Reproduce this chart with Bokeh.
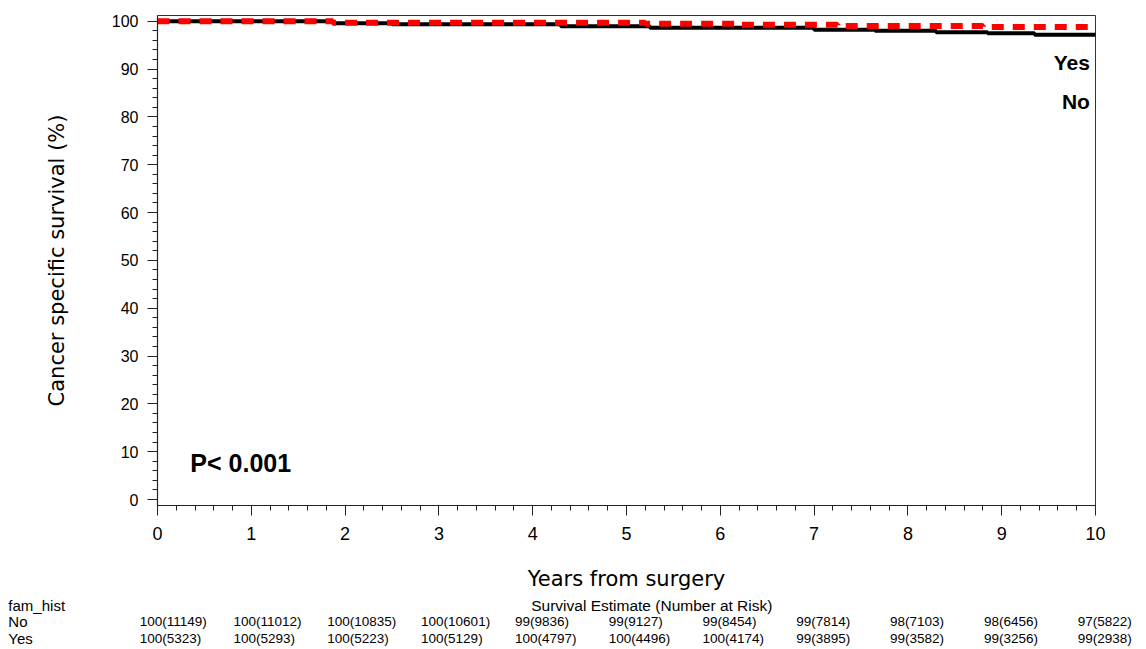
from bokeh.plotting import figure
from bokeh.models import Range1d, SingleIntervalTicker, ColumnDataSource
from bokeh.layouts import column
from bokeh.core.properties import value
from bokeh.embed import file_html
from bokeh.resources import INLINE

# ---- data ----
no_t = [0, 1.87, 2.5, 4.3, 5.25, 7.0, 7.65, 8.3, 8.85, 9.35, 10]
no_s = [100, 99.58, 99.37, 98.95, 98.64, 98.2, 98.0, 97.7, 97.5, 97.2, 97.1]
yes_t = [0, 1.87, 5.2, 6.15, 7.25, 8.8, 10]
yes_s = [100, 99.7, 99.5, 99.25, 99.0, 98.8, 98.75]

times = list(range(11))
no_est = [100, 100, 100, 100, 99, 99, 99, 99, 98, 98, 97]
no_risk = [11149, 11012, 10835, 10601, 9836, 9127, 8454, 7814, 7103, 6456, 5822]
yes_est = [100, 100, 100, 100, 100, 100, 100, 99, 99, 99, 99]
yes_risk = [5323, 5293, 5223, 5129, 4797, 4496, 4174, 3895, 3582, 3256, 2938]
group_labels = ["fam_hist", "No", "Yes"]
table_title = "Survival Estimate (Number at Risk)"

FONT = "Liberation Sans"
LABEL_FONT = "DejaVu Sans"
W = 1146
FRAME_L, FRAME_R = 157, 51
px_per_year = (W - FRAME_L - FRAME_R) / 10

# ---- main figure ----
p = figure(width=W, height=597, x_range=Range1d(0, 10), y_range=Range1d(-1.25, 101.2),
           output_backend="svg", toolbar_location=None,
           min_border_left=FRAME_L, min_border_right=FRAME_R, min_border_top=15, min_border_bottom=92)
p.frame_align = False
p.grid.visible = False
p.outline_line_color = "#333333"
p.outline_line_width = 1
p.background_fill_color = "white"
p.border_fill_color = "white"

p.xaxis.ticker = SingleIntervalTicker(interval=1, num_minor_ticks=5)
p.yaxis.ticker = SingleIntervalTicker(interval=10, num_minor_ticks=5)
for ax in (p.xaxis[0], p.yaxis[0]):
    ax.axis_line_color = "#222222"
    ax.axis_line_width = 1.2
    ax.major_tick_line_color = "#222222"
    ax.minor_tick_line_color = "#222222"
    ax.major_tick_in = 0
    ax.major_tick_out = 10
    ax.minor_tick_in = 0
    ax.minor_tick_out = 5
    ax.major_label_text_font = FONT
    ax.major_label_text_color = "black"
    ax.axis_label_text_font = LABEL_FONT
    ax.axis_label_text_font_style = "normal"
    ax.axis_label_text_color = "black"

p.xaxis.axis_label = "Years from surgery"
p.xaxis.major_label_text_font_size = "18px"
p.xaxis.axis_label_text_font_size = "21px"
p.xaxis.major_label_standoff = 11
p.xaxis.axis_label_standoff = 24

p.yaxis.axis_label = "Cancer specific survival (%)"
p.yaxis.major_label_text_font_size = "16px"
p.yaxis.axis_label_text_font_size = "21px"
p.yaxis.major_label_standoff = 9
p.yaxis.axis_label_standoff = 40

p.step(no_t, no_s, mode="after", line_color="black", line_width=4)
p.step(yes_t, yes_s, mode="after", line_color="#FF0000", line_width=6, line_dash="12 9")

p.text(x=[9.94, 9.94], y=[91.4, 83.2], text=["Yes", "No"], text_align="right",
       text_baseline="middle", text_font=value(FONT), text_font_style="bold",
       text_font_size="21px", text_color="black")
p.text(x=[0.35], y=[7.7], text=["P< 0.001"], text_align="left", text_baseline="middle",
       text_font=value(FONT), text_font_style="bold", text_font_size="25px", text_color="black")

# ---- risk table: full-width frame, same years-to-pixels scale as the main plot ----
t = figure(width=W, height=52,
           x_range=Range1d(-FRAME_L / px_per_year, (W - FRAME_L) / px_per_year),
           y_range=Range1d(2.7, -0.5), output_backend="svg", toolbar_location=None,
           min_border_left=0, min_border_right=0, min_border_top=0, min_border_bottom=0)
t.frame_align = False
t.axis.visible = False
t.grid.visible = False
t.outline_line_color = None
t.background_fill_color = "white"
t.border_fill_color = "white"

label_x = -1.59
t.text(x=[label_x] * 3, y=[0, 1, 2], text=group_labels, text_align="left",
       text_baseline="middle", text_font=value(FONT), text_font_size="15px", text_color="black")
t.text(x=[5.27], y=[0], text=[table_title], text_align="center",
       text_baseline="middle", text_font=value(FONT), text_font_size="15.5px", text_color="black")

cx = [tt - 0.19 for tt in times] * 2
cy = [1] * len(times) + [2] * len(times)
ctext = [f"{e}({r})" for e, r in zip(no_est, no_risk)] + [f"{e}({r})" for e, r in zip(yes_est, yes_risk)]
src = ColumnDataSource(dict(x=cx, y=cy, text=ctext))
t.text(x="x", y="y", text="text", source=src, text_align="left", text_baseline="middle",
       text_font=value(FONT), text_font_size="13.5px", text_color="black")

layout = column(p, t, spacing=0)
open("out.html", "w").write(file_html(layout, INLINE))
